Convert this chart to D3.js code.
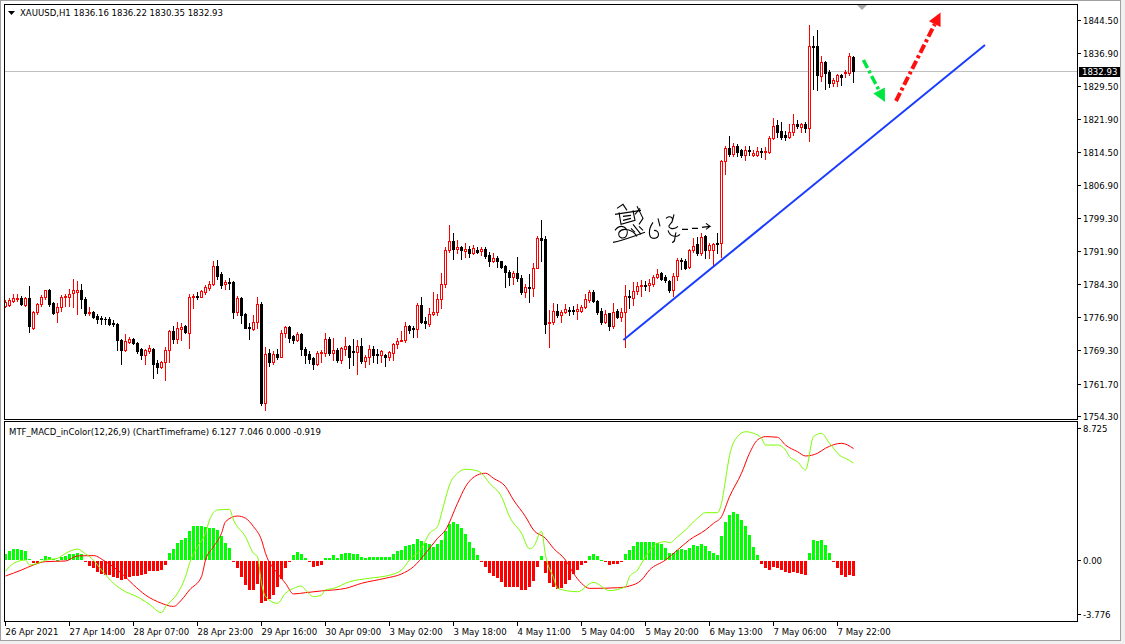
<!DOCTYPE html>
<html>
<head>
<meta charset="utf-8">
<title>XAUUSD H1</title>
<script src="https://d3js.org/d3.v7.min.js"></script>
<style>
  body { margin: 0; background: #fff; }
  svg text { font-family: "DejaVu Sans", "Liberation Sans", sans-serif; font-stretch: condensed; font-size: 9.5px; fill: #000; }
</style>
</head>
<body>
<div id="chart"></div>
<script>
// header texts
const symbolTitle = "XAUUSD,H1  1836.16 1836.22 1830.35 1832.93";
const macdTitle = "MTF_MACD_inColor(12,26,9) (ChartTimeframe) 6.127 7.046 0.000 -0.919";

// time axis: one label every 16 bars
const timeLabels = ["26 Apr 2021", "27 Apr 14:00", "28 Apr 07:00", "28 Apr 23:00", "29 Apr 16:00",
  "30 Apr 09:00", "3 May 02:00", "3 May 18:00", "4 May 11:00", "5 May 04:00", "5 May 20:00",
  "6 May 13:00", "7 May 06:00", "7 May 22:00"];
const priceTicks = [1844.50, 1836.90, 1829.50, 1821.90, 1814.50, 1806.90, 1799.30, 1791.90,
  1784.30, 1776.90, 1769.30, 1761.70, 1754.30];
const macdTicks = [8.725, 0.00, -3.776];
const lastPrice = 1832.93;

// H1 candles [open, high, low, close]
const candles = [
  [1779.4,1780.7,1779.2,1780.3],[1779.6,1781.2,1779.4,1780.7],[1780.5,1782.2,1780.3,1781.2],[1780.9,1782.0,1780.5,1781.2],
  [1781.2,1781.6,1779.6,1779.7],[1779.6,1781.3,1779.4,1781.1],[1781.1,1783.9,1773.5,1774.7],[1774.4,1778.3,1774.1,1777.9],
  [1777.9,1780.1,1777.5,1779.8],[1779.8,1781.9,1779.4,1781.5],[1781.3,1783.1,1780.9,1782.9],[1783.0,1783.3,1779.4,1779.8],
  [1780.0,1780.3,1777.5,1777.7],[1777.9,1780.0,1775.8,1779.1],[1779.1,1781.8,1778.3,1781.3],[1781.3,1782.1,1779.4,1781.6],
  [1781.3,1783.3,1779.4,1782.2],[1782.4,1785.4,1779.2,1783.0],[1782.6,1785.1,1777.5,1783.0],[1783.0,1784.4,1778.8,1781.0],
  [1781.0,1781.5,1777.3,1777.7],[1777.7,1779.2,1777.4,1778.1],[1777.9,1778.3,1776.7,1776.8],[1777.1,1777.5,1775.4,1776.5],
  [1776.7,1777.1,1775.2,1776.3],[1776.5,1776.9,1775.2,1776.3],[1776.5,1776.8,1775.0,1775.2],[1775.4,1776.2,1774.9,1775.2],
  [1775.3,1775.4,1769.3,1771.5],[1771.6,1771.8,1766.1,1769.3],[1769.3,1773.0,1769.1,1771.4],[1771.2,1772.2,1770.9,1771.8],
  [1771.8,1772.0,1770.7,1770.9],[1771.0,1771.2,1768.6,1769.2],[1769.5,1769.7,1767.3,1768.2],[1768.2,1769.6,1766.1,1769.3],
  [1769.2,1770.4,1768.7,1769.7],[1769.6,1769.7,1763.0,1766.1],[1766.3,1767.1,1764.2,1765.5],[1765.5,1766.9,1765.3,1766.5],
  [1766.5,1770.1,1762.4,1769.3],[1769.3,1773.9,1766.7,1773.7],[1773.7,1774.9,1771.0,1771.8],[1771.8,1775.6,1770.9,1774.3],
  [1774.1,1775.4,1771.6,1774.5],[1774.7,1775.0,1773.1,1773.4],[1773.3,1782.1,1769.9,1781.3],[1781.3,1782.2,1778.8,1781.7],
  [1781.6,1782.5,1780.9,1781.3],[1781.5,1783.1,1781.3,1782.8],[1782.6,1784.1,1782.2,1783.7],[1783.5,1785.1,1783.0,1784.4],
  [1784.4,1789.6,1784.1,1788.5],[1788.5,1789.8,1785.6,1786.3],[1786.6,1787.0,1783.4,1784.1],[1784.3,1785.3,1783.3,1784.8],
  [1784.8,1785.7,1783.2,1784.6],[1784.9,1785.05,1776.7,1778.1],[1778.1,1781.6,1777.3,1781.1],[1781.1,1781.3,1775.4,1777.2],
  [1777.5,1777.8,1774.4,1774.4],[1774.6,1775.4,1771.8,1774.3],[1774.1,1777.3,1773.9,1775.6],[1775.6,1781.3,1774.3,1779.8],
  [1779.8,1780.3,1756.8,1757.2],[1757.3,1770.1,1755.7,1768.4],[1768.6,1769.6,1765.8,1766.7],[1766.7,1769.0,1766.1,1768.4],
  [1768.4,1769.6,1767.2,1767.8],[1767.8,1773.9,1767.7,1773.1],[1773.1,1774.8,1772.4,1774.5],[1774.5,1774.8,1771.2,1772.0],
  [1772.5,1772.7,1770.9,1771.6],[1771.6,1773.5,1771.4,1773.0],[1773.0,1773.1,1768.3,1769.5],[1769.5,1770.1,1766.3,1768.3],
  [1768.4,1769.0,1766.3,1767.3],[1767.4,1767.8,1765.0,1766.1],[1766.1,1769.0,1765.9,1768.7],[1768.6,1769.3,1766.7,1768.9],
  [1768.6,1773.3,1768.0,1771.8],[1771.8,1772.4,1768.1,1768.7],[1768.7,1772.0,1767.1,1769.3],[1769.3,1769.9,1766.7,1767.1],
  [1767.1,1770.1,1766.3,1769.7],[1769.6,1772.4,1768.2,1770.2],[1770.2,1770.5,1765.2,1767.8],[1769.2,1771.8,1765.9,1768.9],
  [1768.8,1771.6,1763.9,1770.2],[1770.2,1772.0,1766.3,1766.9],[1766.9,1768.2,1765.5,1767.8],[1767.7,1770.5,1766.1,1769.6],
  [1769.6,1770.3,1766.7,1768.1],[1768.4,1769.6,1766.3,1768.1],[1768.1,1769.3,1766.7,1769.0],[1768.1,1768.4,1765.8,1767.7],
  [1767.7,1769.2,1767.1,1768.9],[1768.7,1771.0,1767.1,1770.6],[1770.6,1772.1,1769.9,1771.4],[1771.4,1773.7,1771.4,1771.6],
  [1771.5,1775.6,1771.2,1774.8],[1774.8,1775.0,1773.3,1773.9],[1774.3,1774.8,1772.2,1774.1],[1774.1,1780.0,1772.2,1779.6],
  [1779.6,1781.5,1775.4,1775.6],[1776.0,1776.8,1774.3,1775.4],[1775.2,1778.8,1774.9,1777.5],[1777.5,1782.5,1777.3,1778.1],
  [1777.9,1782.2,1777.2,1780.9],[1780.9,1786.8,1778.8,1784.3],[1784.3,1792.7,1783.6,1792.0],[1792.0,1797.8,1791.7,1794.2],
  [1794.2,1795.9,1790.1,1792.3],[1792.3,1794.4,1791.4,1792.7],[1792.7,1793.1,1790.0,1792.0],[1791.9,1793.6,1790.6,1792.3],
  [1792.3,1793.1,1790.6,1791.5],[1791.5,1793.2,1791.2,1792.6],[1792.0,1792.9,1791.4,1791.7],[1791.9,1792.9,1791.0,1792.4],
  [1792.4,1792.9,1790.2,1790.8],[1791.0,1791.6,1788.5,1789.7],[1789.7,1791.4,1789.3,1790.4],[1790.4,1790.7,1788.3,1789.5],
  [1789.5,1789.7,1788.1,1788.3],[1788.5,1788.7,1783.6,1787.0],[1787.1,1787.6,1784.1,1786.0],[1786.0,1787.3,1784.3,1786.8],
  [1786.9,1790.6,1785.1,1785.7],[1785.8,1786.4,1782.2,1782.5],[1782.6,1784.4,1781.3,1783.6],[1783.6,1786.6,1780.3,1783.4],
  [1783.4,1789.1,1781.7,1788.1],[1788.1,1795.2,1787.9,1794.8],[1794.8,1798.95,1789.5,1794.5],[1794.6,1795.3,1773.3,1775.3],
  [1775.4,1778.4,1770.1,1775.6],[1775.6,1779.96,1775.3,1778.2],[1778.2,1779.8,1776.9,1777.2],[1777.2,1778.45,1775.8,1778.0],
  [1777.9,1779.8,1777.7,1778.7],[1778.45,1779.1,1777.3,1778.2],[1778.45,1779.4,1777.5,1778.2],[1778.3,1779.8,1776.5,1778.6],
  [1778.3,1779.6,1777.9,1779.2],[1779.1,1782.2,1778.8,1780.9],[1780.7,1783.1,1780.3,1782.5],[1782.5,1783.0,1780.2,1780.5],
  [1780.5,1780.7,1777.5,1778.1],[1778.3,1778.8,1775.3,1775.8],[1775.8,1778.45,1775.4,1777.5],[1777.7,1777.8,1773.9,1774.9],
  [1774.9,1780.1,1774.3,1778.1],[1778.2,1778.7,1776.6,1776.8],[1776.8,1778.8,1776.0,1778.1],[1778.1,1784.1,1770.1,1781.6],
  [1781.6,1783.0,1778.8,1781.3],[1781.1,1784.9,1779.6,1782.8],[1782.8,1784.9,1782.2,1783.9],[1783.9,1785.3,1781.7,1784.1],
  [1784.1,1785.0,1783.0,1784.0],[1784.1,1785.4,1782.8,1784.7],[1784.4,1786.4,1783.9,1786.0],[1786.0,1787.7,1785.7,1786.6],
  [1786.8,1787.2,1785.3,1785.5],[1786.0,1786.4,1784.9,1785.3],[1785.1,1785.3,1782.6,1783.0],[1783.0,1786.8,1781.6,1786.3],
  [1786.3,1790.2,1785.3,1789.8],[1789.8,1790.2,1787.8,1789.5],[1789.7,1790.0,1787.7,1787.9],[1788.3,1792.3,1788.1,1792.0],
  [1792.0,1794.8,1791.6,1793.1],[1793.4,1795.0,1791.0,1791.4],[1791.4,1795.9,1791.0,1795.0],[1795.2,1795.5,1790.4,1792.1],
  [1792.0,1793.6,1790.4,1793.3],[1792.0,1793.8,1788.5,1793.5],[1793.6,1795.9,1791.4,1793.4],[1793.6,1812.6,1790.6,1812.4],
  [1812.4,1815.7,1809.4,1815.3],[1815.3,1818.1,1813.5,1814.0],[1814.0,1816.4,1813.5,1815.9],[1815.9,1816.3,1813.5,1814.5],
  [1814.9,1815.1,1813.4,1813.8],[1813.8,1815.7,1812.5,1815.0],[1815.0,1815.9,1813.8,1814.7],[1813.8,1814.9,1813.5,1814.1],
  [1813.8,1815.65,1813.5,1814.7],[1814.7,1815.3,1813.2,1814.4],[1814.4,1815.65,1812.8,1814.7],[1814.5,1818.1,1814.1,1817.7],
  [1817.6,1822.1,1817.3,1820.4],[1820.6,1821.7,1817.8,1819.1],[1819.2,1821.3,1817.3,1817.9],[1818.3,1819.2,1817.2,1817.9],
  [1817.8,1820.8,1817.6,1818.9],[1818.9,1823.1,1818.3,1820.7],[1820.7,1821.7,1819.8,1820.4],[1820.2,1821.1,1818.9,1820.7],
  [1820.8,1821.3,1818.9,1819.8],[1819.8,1843.4,1817.0,1838.6],[1838.6,1840.9,1828.7,1838.3],[1838.6,1842.2,1828.6,1832.0],
  [1831.8,1836.2,1830.5,1835.0],[1835.0,1835.2,1828.7,1832.4],[1832.7,1833.1,1829.2,1830.2],[1830.2,1831.2,1829.5,1830.8],
  [1830.7,1832.2,1829.5,1832.0],[1832.0,1832.2,1829.7,1831.6],[1832.4,1833.1,1831.6,1832.7],[1832.5,1836.9,1832.0,1836.2],
  [1836.16,1836.22,1830.35,1832.93]
];

// MTF MACD histogram, one value per bar
const histogram = [
  0.36,0.59,0.69,0.69,0.63,0.57,0.06,-0.1,-0.1,0.1,
  0.29,0.21,0.1,0.04,0.21,0.29,0.36,0.4,0.44,0.36,
  -0.05,-0.29,-0.46,-0.69,-0.8,-0.86,-0.9,-0.99,-1.07,-1.18,
  -1.11,-0.99,-0.93,-0.93,-0.88,-0.78,-0.61,-0.61,-0.61,-0.55,
  -0.21,0.44,0.69,1.09,1.3,1.43,1.87,2.15,2.15,2.15,
  2.1,2.02,2.06,1.89,1.51,1.11,0.74,-0.06,-0.46,-0.97,
  -1.53,-1.81,-1.81,-1.45,-2.63,-2.5,-2.36,-2.15,-1.62,-1.11,
  -0.46,-0.06,0.32,0.53,0.4,0.17,-0.06,-0.36,-0.29,-0.25,
  0.13,0.17,0.32,0.17,0.4,0.44,0.44,0.4,0.36,0.23,
  0.13,0.19,0.19,0.19,0.19,0.19,0.19,0.36,0.57,0.65,
  0.88,0.99,1.05,1.32,1.24,1.07,1.03,0.82,1.05,1.28,
  1.83,2.31,2.4,2.31,2.02,1.64,1.16,0.76,0.32,-0.05,
  -0.38,-0.74,-0.93,-1.09,-1.3,-1.62,-1.62,-1.62,-1.62,-1.81,
  -1.81,-1.62,-1.26,-0.38,0.25,-0.74,-1.37,-1.62,-1.77,-1.72,
  -1.43,-1.2,-0.82,-0.53,-0.27,-0.1,0.29,0.38,0.25,0.04,
  -0.04,-0.25,-0.19,-0.19,-0.04,0.38,0.63,0.88,1.14,1.18,
  1.18,1.18,1.18,1.11,1.01,0.76,0.44,0.44,0.63,0.69,
  0.63,0.76,0.95,0.88,1.01,0.88,0.57,0.44,0.32,1.51,
  2.4,2.84,3.03,2.9,2.52,2.15,1.58,0.82,0.32,-0.19,
  -0.44,-0.57,-0.38,-0.44,-0.57,-0.69,-0.76,-0.69,-0.76,-0.82,
  -0.88,0.44,1.26,1.2,1.26,0.95,0.44,-0.04,-0.44,-0.88,
  -1.01,-0.88,-0.92
];

// MACD main line, read as [bar, value]
const macdMain = [
  [0,-0.70],[2,-0.2],[5,0.01],[6,-0.3],[8,-0.2],[10,0.0],[13,0.12],[15,0.43],[18,0.7],[20,0.4],
  [22,0.0],[24,-0.62],[27,-1.46],[30,-1.99],[32,-2.2],[35,-2.62],[36,-2.79],[39,-3.31],[40,-2.94],[43,-2.09],
  [45,-1.04],[46,-0.2],[48,0.85],[50,1.7],[51,2.54],[53,3.17],[56,3.21],[57,2.54],[60,1.48],[62,0.43],
  [63,0.22],[64,-1.46],[65,-2.3],[68,-2.72],[70,-2.09],[72,-1.78],[74,-1.63],[75,-1.88],[77,-2.3],[79,-2.2],
  [80,-1.88],[82,-1.78],[86,-1.36],[91,-1.14],[96,-0.95],[99,-0.62],[101,0.01],[104,0.75],[106,1.70],[108,2.12],
  [109,2.96],[110,3.9],[111,4.75],[113,5.49],[115,5.74],[117,5.7],[119,5.49],[121,4.86],[124,4.01],[126,2.75],
  [129,1.70],[131,0.72],[132,0.85],[134,1.82],[135,0.3],[137,-1.1],[138,-1.78],[143,-1.99],[147,-1.4],[151,-1.92],
  [155,-1.67],[156,-1.04],[158,-0.62],[159,-0.2],[163,1.07],[165,1.17],[166,1.1],[168,1.48],[170,1.91],[173,2.65],
  [175,3.0],[178,3.0],[179,3.59],[180,5.06],[181,6.6],[183,7.8],[185,8.11],[187,8.01],[189,7.7],[190,7.27],
  [193,7.27],[195,6.96],[196,6.54],[198,6.22],[200,5.7],[202,7.8],[204,8.01],[206,7.38],[209,6.54],[210,6.43],
  [212,6.13]
];

// MACD signal line, read as [bar, value]
const macdSignal = [
  [0,-1.0],[4,-0.62],[7,-0.3],[10,-0.09],[15,-0.05],[18,0.27],[22,0.29],[25,-0.09],[29,-0.83],[32,-1.56],
  [35,-2.2],[39,-2.72],[41,-2.89],[42,-2.92],[44,-2.51],[46,-1.88],[49,-1.04],[50,0.01],[52,0.85],[54,1.7],
  [55,2.43],[58,2.79],[60,2.65],[62,2.12],[64,1.28],[65,0.43],[68,-0.83],[70,-1.46],[72,-2.13],[75,-2.05],
  [79,-1.94],[85,-1.78],[89,-1.46],[95,-1.14],[99,-0.87],[102,-0.41],[105,0.43],[108,1.38],[110,1.91],[113,3.59],
  [115,4.64],[118,5.38],[120,5.49],[122,5.17],[125,4.64],[127,3.8],[130,2.75],[132,1.91],[135,1.38],[137,0.75],
  [140,0.01],[142,-0.83],[144,-1.46],[146,-1.78],[153,-1.74],[156,-1.63],[159,-1.25],[161,-0.62],[165,0.01],[168,0.64],
  [171,1.28],[175,1.91],[177,2.33],[179,2.75],[181,4.01],[184,5.49],[186,6.75],[188,7.59],[190,7.8],[193,7.76],
  [195,7.27],[198,6.85],[200,6.58],[203,6.75],[205,7.07],[209,7.38],[212,7.05]
];

// drawn objects, as [bar, price]
const trendLine = [[154.6, 1771.6], [245, 1838.8]];
const greenArrow = [[214.6, 1835.4], [220, 1825.8]];
const redArrow = [[222.75, 1826.05], [233.9, 1846.2]];

const W = 1125, H = 644;
const left = 4, right = 1077;
const mainTop = 4, mainBottom = 419;
const macdTop = 421, macdBottom = 621;

const svg = d3.select("#chart").append("svg")
    .attr("width", W).attr("height", H)
    .attr("shape-rendering", "crispEdges");

// window background and border
svg.append("rect").attr("width", W).attr("height", H).attr("fill", "#f0f0f0");
svg.append("rect").attr("x", 0).attr("y", 0).attr("width", 1120).attr("height", 640)
    .attr("fill", "#fff").attr("stroke", "#a0a0a0");

const x = d3.scaleLinear().domain([0, candles.length - 1]).range([5, 5 + 4 * (candles.length - 1)]);
const yPrice = d3.scaleLinear().domain([1754.30, 1844.50]).range([416, 20]);
const yMacd = d3.scaleLinear().domain([-3.776, 8.725]).range([620, 422]);

svg.append("clipPath").attr("id", "clipMain").append("rect")
    .attr("x", left + 1).attr("y", mainTop + 1).attr("width", right - left - 1).attr("height", mainBottom - mainTop - 1);
svg.append("clipPath").attr("id", "clipMacd").append("rect")
    .attr("x", left + 1).attr("y", macdTop + 1).attr("width", right - left - 1).attr("height", macdBottom - macdTop - 1);

// ---- main pane ----
const main = svg.append("g").attr("clip-path", "url(#clipMain)");

// current price line
const yLast = Math.round(yPrice(lastPrice)) + 0.5;
main.append("line").attr("x1", left).attr("x2", right).attr("y1", yLast).attr("y2", yLast)
    .attr("stroke", "#c0c0c0");

const candle = main.selectAll(".candle").data(candles).enter().append("g").attr("class", "candle");
candle.each(function(d, i) {
    const g = d3.select(this);
    const [o, h, l, c] = d;
    const cx = Math.round(x(i));
    const bull = c >= o;
    const col = bull ? "#ff0000" : "#000";
    const top = Math.round(yPrice(Math.max(o, c)));
    const bot = Math.round(yPrice(Math.min(o, c)));
    g.append("line")
        .attr("x1", cx + 0.5).attr("x2", cx + 0.5)
        .attr("y1", Math.round(yPrice(h))).attr("y2", Math.round(yPrice(l)) + 1)
        .attr("stroke", col);
    if (bull) {
        g.append("path")
            .attr("d", `M${cx - 0.5},${top + 0.5}H${cx + 1.5}V${bot + 0.5}H${cx - 0.5}Z`)
            .attr("fill", "#fff").attr("stroke", col);
    } else {
        g.append("rect").attr("x", cx - 1).attr("y", top)
            .attr("width", 3).attr("height", Math.max(bot - top + 1, 1))
            .attr("fill", col);
    }
});

// hand-drawn objects
const ptX = p => x(p[0]), ptY = p => yPrice(p[1]);
const drawn = svg.append("g").attr("clip-path", "url(#clipMain)").attr("shape-rendering", "auto");
drawn.append("line")
    .attr("x1", ptX(trendLine[0])).attr("y1", ptY(trendLine[0]))
    .attr("x2", ptX(trendLine[1])).attr("y2", ptY(trendLine[1]))
    .attr("stroke", "#1a3cff").attr("stroke-width", 2);

function arrow(pts, color, width, dash) {
    const x0 = ptX(pts[0]), y0 = ptY(pts[0]), x1 = ptX(pts[1]), y1 = ptY(pts[1]);
    const len = Math.hypot(x1 - x0, y1 - y0);
    const ux = (x1 - x0) / len, uy = (y1 - y0) / len;
    const headLen = 13, headW = 6.5;
    const bx = x1 - ux * headLen, by = y1 - uy * headLen;
    drawn.append("line").attr("x1", x0).attr("y1", y0).attr("x2", bx).attr("y2", by)
        .attr("stroke", color).attr("stroke-width", width).attr("stroke-dasharray", dash);
    drawn.append("path")
        .attr("d", `M${x1},${y1}L${bx - uy * headW},${by + ux * headW}L${bx + uy * headW},${by - ux * headW}Z`)
        .attr("fill", color);
}
arrow(greenArrow, "#00e640", 3.5, "9,3,3,3");
arrow(redArrow, "#ff1010", 4, "9,3,3,3");

// signature scribble, anchored to the chart
const sigX = x(152), sigY = yPrice(1797.5);
const sig = drawn.append("g").attr("transform", `translate(${sigX},${sigY})`)
    .attr("fill", "none").attr("stroke", "#000").attr("stroke-width", 1.1);
[
  "M4,-18 L10,-22 L14,-16",
  "M2,-12 L28,-16",
  "M6,-14 L8,-2 L22,-6 L20,-16",
  "M10,-10 L18,-11 M10,-6 L18,-8",
  "M24,-20 L30,-8 L26,-2 M27,-18 L22,-12",
  "M2,4 C8,-4 16,2 14,8 C12,14 4,12 6,6 C10,0 20,4 24,10",
  "M18,2 L22,6 M26,0 L30,4 M20,-2 L28,8",
  "M0,16 C10,14 20,10 32,6",
  "M40,-4 C35,3 35,12 41,12 C47,12 47,4 41,4 M45,-8 L47,0",
  "M53,-8 C57,-12 63,-8 57,-2 C53,2 61,4 65,0 M61,-12 L59,-4",
  "M55,4 C57,10 63,12 67,8 M63,6 C61,12 63,16 59,16",
  "M69,3 L75,3 M79,2 L85,2 M89,1 L97,0 L93,-3 M97,0 L93,3"
].forEach(d => sig.append("path").attr("d", d));

// pane frames
svg.append("rect").attr("x", left + 0.5).attr("y", mainTop + 0.5)
    .attr("width", right - left).attr("height", mainBottom - mainTop)
    .attr("fill", "none").attr("stroke", "#000");
svg.append("rect").attr("x", left + 0.5).attr("y", macdTop + 0.5)
    .attr("width", right - left).attr("height", macdBottom - macdTop)
    .attr("fill", "none").attr("stroke", "#000");

// chart shift marker
svg.append("path").attr("d", "M857,5H867L862,10Z").attr("fill", "#a8a8a8").attr("shape-rendering", "auto");

// symbol title
svg.append("path").attr("d", "M8,11H15L11.5,15Z").attr("fill", "#000").attr("shape-rendering", "auto");
svg.append("text").attr("x", 20).attr("y", 16).text(symbolTitle);

// price axis
const pAxis = svg.append("g");
priceTicks.forEach(v => {
    const yy = Math.round(yPrice(v)) + 0.5;
    pAxis.append("line").attr("x1", right).attr("x2", right + 4).attr("y1", yy).attr("y2", yy).attr("stroke", "#000");
    pAxis.append("text").attr("x", right + 6).attr("y", yy).attr("dy", "0.35em").text(v.toFixed(2));
});
pAxis.append("rect").attr("x", right + 2).attr("y", yLast - 5).attr("width", 41).attr("height", 10).attr("fill", "#000");
pAxis.append("text").attr("x", right + 5).attr("y", yLast).attr("dy", "0.35em")
    .style("fill", "#fff").text(lastPrice.toFixed(2));

// ---- MACD pane ----
const macd = svg.append("g").attr("clip-path", "url(#clipMacd)");
const y0 = Math.round(yMacd(0));
macd.selectAll(".hist").data(histogram).enter().append("rect")
    .attr("x", (d, i) => Math.round(x(i)) - 1)
    .attr("width", 3)
    .attr("y", d => d >= 0 ? Math.round(yMacd(d)) : y0 + 1)
    .attr("height", d => Math.max(1, Math.abs(Math.round(yMacd(d)) - y0)))
    .attr("fill", d => d >= 0 ? "#00ff00" : "#ff0000");

const line = d3.line().x(d => x(d[0]) + 0.5).y(d => yMacd(d[1])).curve(d3.curveMonotoneX);
macd.append("path").attr("d", line(macdSignal)).attr("fill", "none")
    .attr("stroke", "#ff0000").attr("stroke-width", 1).attr("shape-rendering", "auto");
macd.append("path").attr("d", line(macdMain)).attr("fill", "none")
    .attr("stroke", "#7cfc00").attr("stroke-width", 1).attr("shape-rendering", "auto");

svg.append("text").attr("x", 9).attr("y", 435).text(macdTitle);

const mAxis = svg.append("g");
const labelShift = [6, 0, -6];
macdTicks.forEach((v, k) => {
    const yy = Math.round(yMacd(v)) + 0.5 + labelShift[k];
    mAxis.append("line").attr("x1", right).attr("x2", right + 4).attr("y1", yy).attr("y2", yy).attr("stroke", "#000");
    mAxis.append("text").attr("x", right + 6).attr("y", yy).attr("dy", "0.35em")
        .text(v === 0 ? "0.00" : String(v));
});

// time axis
const tAxis = svg.append("g");
timeLabels.forEach((t, k) => {
    const tx = Math.round(x(k * 16)) + 0.5;
    tAxis.append("line").attr("x1", tx).attr("x2", tx).attr("y1", macdBottom).attr("y2", macdBottom + 5).attr("stroke", "#000");
    tAxis.append("text").attr("x", tx).attr("y", 635).text(t);
});
</script>
</body>
</html>
